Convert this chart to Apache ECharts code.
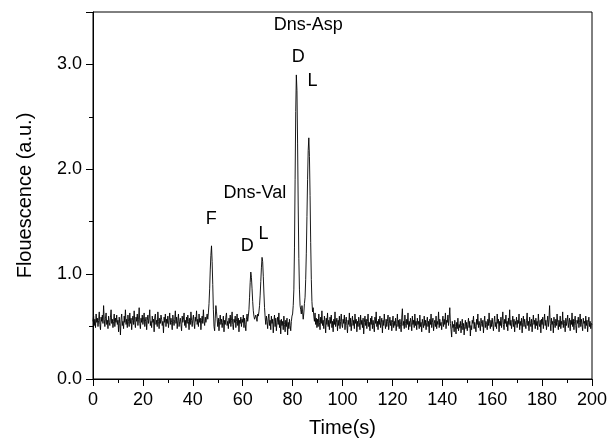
<!DOCTYPE html>
<html><head><meta charset="utf-8">
<script src="https://cdn.jsdelivr.net/npm/echarts@6/dist/echarts.min.js"></script>
<style>html,body{margin:0;padding:0;background:#fff}#c{width:610px;height:439px}</style>
</head><body><div id="c"></div>
<script>
// sampling: one value every 0.25 s from t = 0 to t = 200
const startTime = 0;
const step = 0.25;
const fluo = [
// 0-10
0.55,0.60,0.51,0.57,0.49,0.62,0.54,0.58,0.50,0.56,0.64,0.52,0.47,0.59,0.55,0.61,0.53,0.70,0.57,0.50,
0.58,0.63,0.52,0.56,0.48,0.60,0.54,0.51,0.59,0.66,0.53,0.57,0.49,0.55,0.62,0.50,0.58,0.54,0.61,0.52,
// 10-20
0.56,0.45,0.59,0.53,0.42,0.57,0.62,0.51,0.55,0.48,0.60,0.54,0.66,0.52,0.57,0.49,0.61,0.55,0.50,0.63,
0.53,0.58,0.47,0.56,0.60,0.52,0.65,0.54,0.49,0.59,0.55,0.62,0.51,0.57,0.68,0.53,0.48,0.58,0.54,0.61,
// 20-30
0.52,0.57,0.63,0.50,0.55,0.59,0.47,0.56,0.61,0.53,0.58,0.66,0.51,0.55,0.49,0.60,0.54,0.57,0.45,0.59,
0.62,0.52,0.56,0.50,0.64,0.55,0.48,0.58,0.53,0.61,0.57,0.51,0.55,0.44,0.59,0.54,0.62,0.50,0.57,0.53,
// 30-40
0.60,0.49,0.56,0.63,0.52,0.58,0.54,0.47,0.61,0.55,0.51,0.57,0.65,0.53,0.59,0.48,0.56,0.62,0.50,0.55,
0.58,0.52,0.46,0.60,0.54,0.57,0.63,0.51,0.56,0.49,0.59,0.53,0.61,0.55,0.47,0.58,0.52,0.64,0.56,0.50,
// 40-50 (F peak)
0.57,0.61,0.53,0.48,0.59,0.55,0.65,0.52,0.57,0.50,0.62,0.54,0.58,0.47,0.56,0.60,0.53,0.66,0.55,0.51,
0.59,0.54,0.58,0.62,0.57,0.63,0.72,0.86,1.04,1.18,1.27,1.12,0.90,0.66,0.50,0.46,0.58,0.70,0.64,0.57,
// 50-60
0.50,0.58,0.46,0.55,0.61,0.52,0.57,0.49,0.54,0.60,0.45,0.56,0.52,0.59,0.63,0.51,0.55,0.48,0.58,0.53,
0.61,0.50,0.56,0.64,0.52,0.47,0.57,0.54,0.60,0.49,0.55,0.62,0.51,0.58,0.45,0.56,0.53,0.59,0.50,0.57,
// 60-70 (Dns-Val D, L)
0.54,0.61,0.49,0.58,0.52,0.46,0.57,0.62,0.55,0.60,0.66,0.78,0.92,1.02,0.97,0.86,0.74,0.65,0.60,0.57,
0.56,0.61,0.58,0.55,0.62,0.60,0.64,0.70,0.80,0.93,1.06,1.16,1.12,0.98,0.82,0.68,0.59,0.52,0.60,0.55,
// 70-80
0.48,0.58,0.62,0.51,0.56,0.47,0.60,0.53,0.57,0.44,0.55,0.61,0.50,0.58,0.46,0.54,0.59,0.52,0.63,0.49,
0.56,0.43,0.57,0.51,0.55,0.47,0.60,0.52,0.45,0.56,0.50,0.58,0.42,0.54,0.48,0.57,0.51,0.46,0.55,0.60,
// 80-90 (Dns-Asp D, L)
0.62,0.70,0.85,1.25,1.90,2.55,2.90,2.75,2.25,1.65,1.15,0.85,0.70,0.66,0.62,0.70,0.64,0.57,0.63,0.72,
0.78,0.95,1.20,1.55,1.90,2.18,2.30,2.12,1.75,1.30,0.95,0.74,0.64,0.68,0.60,0.55,0.63,0.52,0.58,0.49,
// 90-100
0.57,0.50,0.62,0.54,0.47,0.59,0.53,0.65,0.51,0.56,0.48,0.60,0.55,0.44,0.58,0.52,0.63,0.50,0.56,0.47,
0.59,0.53,0.61,0.49,0.55,0.45,0.57,0.52,0.64,0.50,0.54,0.58,0.46,0.56,0.51,0.60,0.48,0.55,0.62,0.52,
// 100-110
0.49,0.57,0.53,0.61,0.47,0.55,0.59,0.51,0.44,0.56,0.52,0.63,0.50,0.58,0.46,0.54,0.60,0.51,0.56,0.48,
0.62,0.53,0.57,0.45,0.55,0.50,0.59,0.54,0.47,0.61,0.52,0.56,0.49,0.58,0.43,0.54,0.60,0.51,0.57,0.48,
// 110-120
0.55,0.62,0.50,0.54,0.46,0.58,0.52,0.60,0.48,0.56,0.51,0.45,0.59,0.53,0.64,0.50,0.55,0.47,0.57,0.52,
0.60,0.49,0.54,0.58,0.44,0.56,0.51,0.62,0.53,0.48,0.57,0.50,0.55,0.61,0.47,0.53,0.59,0.51,0.56,0.46,
// 120-130
0.54,0.60,0.49,0.55,0.51,0.58,0.46,0.53,0.62,0.50,0.56,0.48,0.57,0.52,0.45,0.59,0.67,0.51,0.55,0.48,
0.61,0.53,0.49,0.57,0.52,0.63,0.47,0.55,0.50,0.58,0.54,0.46,0.60,0.52,0.56,0.49,0.62,0.51,0.55,0.47,
// 130-140
0.58,0.52,0.55,0.48,0.61,0.50,0.54,0.45,0.57,0.53,0.49,0.60,0.51,0.56,0.47,0.54,0.59,0.50,0.55,0.44,
0.57,0.52,0.62,0.49,0.54,0.58,0.46,0.53,0.56,0.50,0.60,0.48,0.55,0.52,0.64,0.49,0.57,0.51,0.54,0.47,
// 140-150
0.55,0.60,0.50,0.57,0.52,0.63,0.48,0.56,0.54,0.61,0.51,0.58,0.68,0.53,0.47,0.40,0.55,0.49,0.52,0.45,
0.56,0.50,0.43,0.54,0.48,0.58,0.46,0.52,0.49,0.55,0.44,0.51,0.57,0.47,0.53,0.42,0.50,0.56,0.48,0.54,
// 150-160
0.46,0.52,0.58,0.49,0.55,0.41,0.51,0.47,0.56,0.53,0.60,0.48,0.54,0.50,0.45,0.57,0.52,0.62,0.49,0.55,
0.51,0.46,0.58,0.53,0.50,0.56,0.44,0.54,0.60,0.49,0.55,0.52,0.47,0.57,0.51,0.63,0.53,0.48,0.56,0.50,
// 160-170
0.58,0.52,0.46,0.55,0.60,0.50,0.54,0.48,0.62,0.53,0.57,0.45,0.55,0.51,0.59,0.49,0.56,0.64,0.52,0.47,
0.57,0.53,0.61,0.50,0.55,0.46,0.58,0.52,0.66,0.51,0.56,0.48,0.54,0.60,0.50,0.57,0.45,0.55,0.52,0.59,
// 170-180
0.49,0.56,0.53,0.62,0.47,0.55,0.51,0.58,0.44,0.54,0.60,0.50,0.57,0.52,0.48,0.56,0.63,0.51,0.55,0.46,
0.59,0.53,0.50,0.57,0.45,0.54,0.61,0.52,0.56,0.48,0.58,0.51,0.55,0.47,0.62,0.53,0.50,0.56,0.44,0.57,
// 180-190
0.52,0.59,0.48,0.55,0.62,0.51,0.56,0.47,0.54,0.60,0.50,0.57,0.70,0.53,0.46,0.58,0.52,0.55,0.44,0.59,
0.53,0.49,0.57,0.51,0.62,0.54,0.47,0.56,0.50,0.60,0.48,0.55,0.52,0.64,0.49,0.56,0.53,0.45,0.58,0.51,
// 190-200
0.55,0.61,0.49,0.54,0.58,0.46,0.56,0.52,0.63,0.50,0.57,0.47,0.55,0.60,0.51,0.44,0.56,0.53,0.59,0.49,
0.54,0.62,0.50,0.57,0.52,0.46,0.58,0.53,0.55,0.48,0.60,0.51,0.56,0.45,0.54,0.59,0.50,0.55,0.48,0.53,
0.52
];

// peak annotations (text, time, height in data units)
const annoText = ['Dns-Asp','D','L','Dns-Val','F','D','L'];
const annoTime = [86.3, 82.3, 88.0, 64.9, 47.4, 61.8, 68.3];
const annoValue = [3.38, 3.07, 2.84, 1.77, 1.53, 1.27, 1.38];

const xTicks = [0,20,40,60,80,100,120,140,160,180,200];
const yTicks = [0.0,1.0,2.0,3.0];

const lineData = fluo.map((v, i) => [startTime + i * step, v]);
const annoData = annoText.map((t, i) => ({ value: [annoTime[i], annoValue[i]], name: t }));

const FONT = 'Liberation Sans, Arial, Helvetica, sans-serif';
const chart = echarts.init(document.getElementById('c'), null, { renderer: 'canvas' });
chart.setOption({
  animation: false,
  backgroundColor: '#fff',
  grid: { left: 93, right: 18, top: 12, bottom: 60, containLabel: false, outerBoundsMode: 'none',
    show: true, borderColor: '#000', borderWidth: 1, backgroundColor: 'transparent' },
  xAxis: {
    type: 'value', min: xTicks[0], max: xTicks[xTicks.length - 1], interval: 20,
    name: 'Time(s)', nameLocation: 'middle', nameGap: 39,
    nameTextStyle: { fontFamily: FONT, fontSize: 20, color: '#000' },
    axisLine: { lineStyle: { color: '#000', width: 1 } },
    axisTick: { show: true, inside: false, length: 7, lineStyle: { color: '#000' } },
    minorTick: { show: true, splitNumber: 2, length: 4, lineStyle: { color: '#000' } },
    axisLabel: { fontFamily: FONT, fontSize: 18, color: '#000', margin: 12 },
    splitLine: { show: false }
  },
  yAxis: {
    type: 'value', min: 0, max: 3.5, interval: 1,
    name: 'Flouescence (a.u.)', nameLocation: 'middle', nameGap: 58,
    nameTextStyle: { fontFamily: FONT, fontSize: 20, color: '#000' },
    axisLine: { lineStyle: { color: '#000', width: 1 } },
    axisTick: { show: true, inside: false, length: 7, lineStyle: { color: '#000' } },
    minorTick: { show: true, splitNumber: 2, length: 4, lineStyle: { color: '#000' } },
    axisLabel: { fontFamily: FONT, fontSize: 18, color: '#000', margin: 11, showMaxLabel: false,
      formatter: v => (yTicks.indexOf(v) >= 0 ? v.toFixed(1) : '') },
    splitLine: { show: false }
  },
  series: [
    { type: 'line', data: lineData, showSymbol: false, symbol: 'none',
      lineStyle: { color: '#000', width: 0.9 }, z: 2 },
    { type: 'scatter', data: annoData, symbolSize: 0, silent: true, itemStyle: { opacity: 0 },
      label: { show: true, position: 'inside', formatter: p => p.name,
        fontFamily: FONT, fontSize: 18, color: '#000', textBorderWidth: 0, opacity: 1 } }
  ]
});
</script></body></html>
